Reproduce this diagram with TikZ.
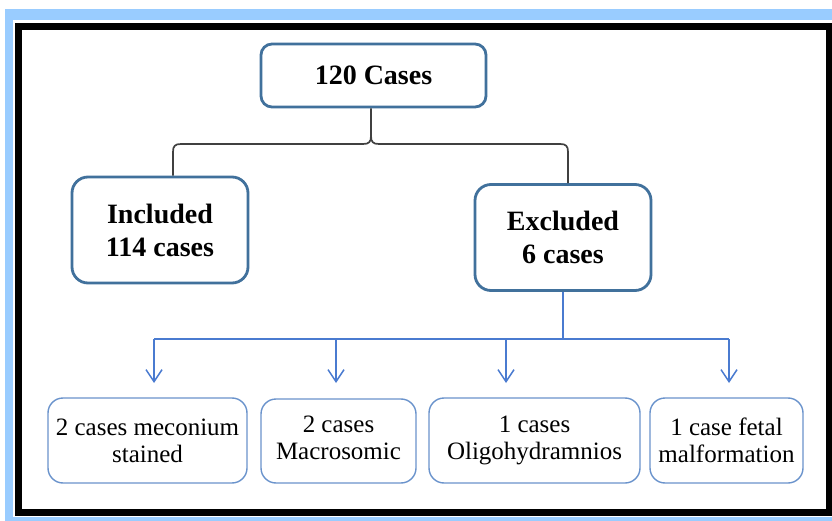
\documentclass[tikz,border=0pt]{standalone}
\usepackage{fontspec}
\setmainfont{Liberation Serif}
\usetikzlibrary{arrows.meta}
\definecolor{bgblue}{HTML}{99CCFF}
\definecolor{topblue}{HTML}{41719C}
\definecolor{thinblue}{HTML}{6A93CC}
\definecolor{linkblue}{HTML}{4A7BD0}
\definecolor{bracegray}{HTML}{404040}
\tikzset{
  bigbox/.style={draw=topblue, line width=2.8pt, rounded corners=16pt, fill=white,
    font=\fontsize{28}{33}\selectfont\bfseries, align=center, inner sep=0pt},
  smallbox/.style={draw=thinblue, line width=1.4pt, rounded corners=15pt, fill=white,
    font=\fontsize{25}{27}\selectfont, align=center, inner sep=0pt},
  link/.style={draw=linkblue, line width=1.5pt},
  linkarrow/.style={link, -{Straight Barb[length=12pt,width=16pt,line width=1.5pt]}},
  brace/.style={draw=bracegray, line width=1.7pt}
}
\begin{document}
\begin{tikzpicture}[x=1pt,y=-1pt]
\useasboundingbox (0,0) rectangle (832,521);
\fill[white] (0,0) rectangle (832,521);
\fill[bgblue] (5,9) rectangle (832,521);
\fill[white] (13,20) rectangle (832,517);
\draw[black, line width=6.5pt] (18.5,26.5) rectangle (829,512.5);

\node[bigbox, minimum width=225pt, minimum height=63pt, rounded corners=11pt] (top) at (373.5,75.5) {120 Cases};
\node[bigbox, minimum width=176pt, minimum height=106pt] (inc) at (160,230) {Included\\114 cases};
\node[bigbox, minimum width=176pt, minimum height=106pt] (exc) at (563,237.5) {Excluded\\6 cases};

\node[smallbox, minimum width=199pt, minimum height=85pt] (b1) at (147.5,440.5) {2 cases meconium\\stained};
\node[smallbox, minimum width=155pt, minimum height=84pt] (b2) at (338.5,441) {\raisebox{4pt}{\begin{tabular}{@{}c@{}}2 cases\\Macrosomic\end{tabular}}};
\node[smallbox, minimum width=211pt, minimum height=85pt] (b3) at (534.5,440.5) {1 cases\\Oligohydramnios};
\node[smallbox, minimum width=153pt, minimum height=85pt] (b4) at (726.5,440.5) {1 case fetal\\malformation};

% curly bracket
\coordinate (tip) at (371,136);
\coordinate (L) at (173,144);
\coordinate (R) at (568,144);
\draw[brace] (top.south -| tip) -- (tip)
  .. controls (371,142) and (373,144) .. (379,144) -- (560,144)
  .. controls (566,144) and (568,146) .. (568,152) -- (exc.north -| R);
\draw[brace] (tip) .. controls (371,142) and (369,144) .. (363,144) -- (181,144)
  .. controls (175,144) and (173,146) .. (173,152) -- (inc.north -| L);

% blue connectors
\coordinate (hub) at (563,339);
\coordinate (h1) at (154,339);
\coordinate (h2) at (336,339);
\coordinate (h3) at (506,339);
\coordinate (h4) at (729,339);
\draw[link] (exc.south) -- (hub);
\draw[link] (h1) -- (h4);
\draw[linkarrow] (h1) -- (154,383);
\draw[linkarrow] (h2) -- (336,383);
\draw[linkarrow] (h3) -- (506,383);
\draw[linkarrow] (h4) -- (729,383);
\end{tikzpicture}
\end{document}
